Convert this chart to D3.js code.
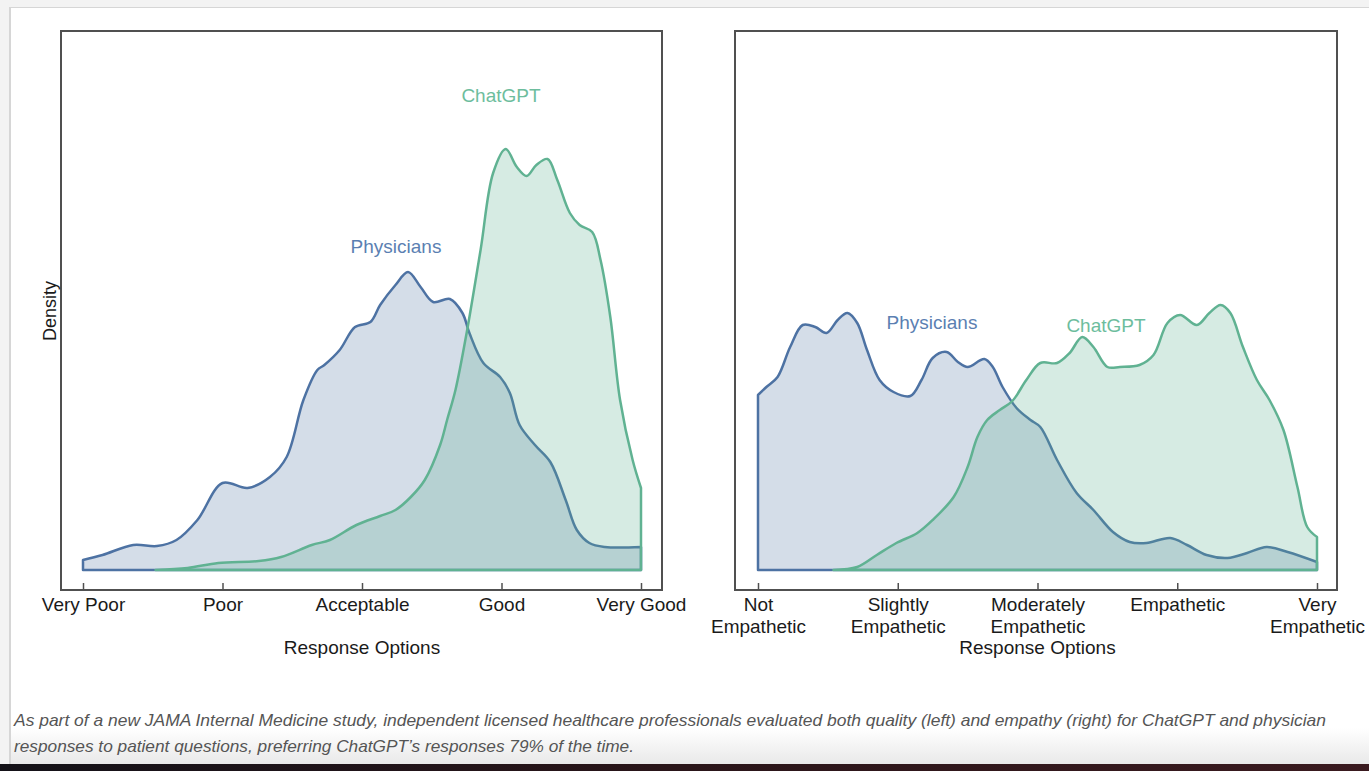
<!DOCTYPE html>
<html>
<head>
<meta charset="utf-8">
<script src="https://cdn.jsdelivr.net/npm/d3@7"></script>
<style>
  html, body { margin: 0; padding: 0; background: #f2f2f2; }
  svg { display: block; }
  text { font-family: "Liberation Sans", Arial, sans-serif; }
</style>
</head>
<body>
<svg id="chart" width="1369" height="771"></svg>
<script>
// ---------------- DATA ----------------
const qualityTickLabels = ["Very Poor", "Poor", "Acceptable", "Good", "Very Good"];
const empathyTickLabels = [["Not", "Empathetic"], ["Slightly", "Empathetic"], ["Moderately", "Empathetic"], ["Empathetic"], ["Very", "Empathetic"]];
const tickValues = [1, 2, 3, 4, 5];

// Quality (left) – Physicians density
const qualityPhysX = [1.00,1.14,1.36,1.53,1.67,1.82,2.00,2.18,2.34,2.46,2.58,2.68,2.73,2.84,2.95,3.06,3.13,3.24,3.33,3.42,3.51,3.63,3.72,3.77,3.87,3.99,4.06,4.13,4.24,4.35,4.46,4.54,4.63,4.74,5.00];
const qualityPhysY = [0.10,0.15,0.25,0.24,0.30,0.50,0.87,0.82,0.93,1.13,1.70,2.00,2.05,2.20,2.43,2.48,2.65,2.85,2.98,2.83,2.68,2.71,2.57,2.37,2.07,1.93,1.77,1.45,1.25,1.08,0.70,0.40,0.27,0.23,0.23];
// Quality (left) – ChatGPT density
const qualityGptX = [1.52,1.75,1.97,2.26,2.42,2.64,2.77,2.96,3.13,3.24,3.35,3.45,3.56,3.61,3.67,3.75,3.85,3.94,4.03,4.11,4.18,4.25,4.33,4.40,4.49,4.56,4.65,4.71,4.78,4.85,4.94,5.00];
const qualityGptY = [0.00,0.02,0.07,0.09,0.13,0.25,0.30,0.45,0.54,0.60,0.73,0.90,1.25,1.50,1.80,2.37,3.20,3.97,4.21,4.03,3.94,4.05,4.11,3.90,3.57,3.45,3.38,3.10,2.53,1.70,1.10,0.82];

// Empathy (right) – Physicians density
const empathyPhysX = [1.00,1.06,1.14,1.23,1.32,1.41,1.49,1.57,1.64,1.71,1.78,1.87,1.97,2.09,2.17,2.25,2.35,2.43,2.50,2.62,2.68,2.75,2.85,2.95,3.02,3.14,3.28,3.40,3.54,3.66,3.78,3.95,4.07,4.21,4.36,4.50,4.64,4.79,5.00];
const empathyPhysY = [1.75,1.83,1.93,2.23,2.45,2.43,2.37,2.50,2.57,2.47,2.20,1.90,1.78,1.74,1.90,2.12,2.18,2.08,2.03,2.11,2.03,1.83,1.62,1.50,1.43,1.10,0.77,0.60,0.38,0.28,0.27,0.32,0.25,0.15,0.12,0.17,0.23,0.18,0.08];
// Empathy (right) – ChatGPT density
const empathyGptX = [1.54,1.71,1.85,1.99,2.14,2.25,2.40,2.50,2.57,2.64,2.73,2.82,2.92,3.02,3.14,3.23,3.32,3.40,3.50,3.59,3.73,3.83,3.93,4.02,4.14,4.23,4.31,4.38,4.47,4.57,4.66,4.76,4.86,4.93,5.00];
const empathyGptY = [0.00,0.03,0.15,0.27,0.37,0.50,0.73,1.03,1.33,1.50,1.60,1.69,1.90,2.07,2.07,2.17,2.33,2.23,2.03,2.03,2.05,2.15,2.47,2.55,2.45,2.57,2.65,2.57,2.23,1.90,1.70,1.40,0.83,0.43,0.33];

const captionLines = [
  "As part of a new JAMA Internal Medicine study, independent licensed healthcare professionals evaluated both quality (left) and empathy (right) for ChatGPT and physician",
  "responses to patient questions, preferring ChatGPT\u2019s responses 79% of the time."
];

// ---------------- STYLE ----------------
const physStroke = "#4d72a3", physFill = "rgba(74,111,160,0.24)", physText = "#5b7fb2";
const gptStroke = "#60b292", gptFill = "rgba(93,175,143,0.25)", gptText = "#6dbd9d";

const svg = d3.select("#chart");

// page shell
const defs = svg.append("defs");
const capGrad = defs.append("linearGradient").attr("id", "capGrad").attr("x1", 0).attr("y1", 0).attr("x2", 0).attr("y2", 1);
capGrad.append("stop").attr("offset", "0%").attr("stop-color", "#ffffff");
capGrad.append("stop").attr("offset", "100%").attr("stop-color", "#e9e9e9");
const botGrad = defs.append("linearGradient").attr("id", "botGrad").attr("x1", 0).attr("y1", 0).attr("x2", 1).attr("y2", 0);
botGrad.append("stop").attr("offset", "0%").attr("stop-color", "#141218");
botGrad.append("stop").attr("offset", "50%").attr("stop-color", "#2a1519");
botGrad.append("stop").attr("offset", "100%").attr("stop-color", "#3a1a1f");

svg.append("rect").attr("x", 0).attr("y", 0).attr("width", 1369).attr("height", 771).attr("fill", "#f3f3f3");
svg.append("rect").attr("x", 9).attr("y", 7).attr("width", 1360).attr("height", 760).attr("fill", "#d6d6d6");
svg.append("rect").attr("x", 11).attr("y", 8).attr("width", 1358).attr("height", 758).attr("fill", "#ffffff");
svg.append("rect").attr("x", 11).attr("y", 728).attr("width", 1358).attr("height", 36).attr("fill", "url(#capGrad)");
svg.append("rect").attr("x", 0).attr("y", 764).attr("width", 1369).attr("height", 7).attr("fill", "url(#botGrad)");

// ---------------- PANELS ----------------
const y = d3.scaleLinear().domain([0, 5.39]).range([570, 31]);

function drawPanel(opts) {
  const x = d3.scaleLinear().domain([1, 5]).range(opts.xRange);
  const g = svg.append("g");

  const area = d3.area()
    .x(d => x(d[0]))
    .y0(y(0))
    .y1(d => y(d[1]))
    .curve(d3.curveCatmullRom.alpha(0.5));

  const phys = d3.zip(opts.physX, opts.physY);
  const gpt = d3.zip(opts.gptX, opts.gptY);

  g.append("path").datum(phys).attr("d", area)
    .attr("fill", physFill).attr("stroke", physStroke).attr("stroke-width", 2.5)
    .attr("stroke-linejoin", "round");
  g.append("path").datum(gpt).attr("d", area)
    .attr("fill", gptFill).attr("stroke", gptStroke).attr("stroke-width", 2.5)
    .attr("stroke-linejoin", "round");

  // frame
  g.append("rect")
    .attr("x", opts.frame[0]).attr("y", 31)
    .attr("width", opts.frame[1] - opts.frame[0]).attr("height", 590 - 31)
    .attr("fill", "none").attr("stroke", "#505050").attr("stroke-width", 2);

  // axis
  const axis = d3.axisBottom(x).tickValues(tickValues).tickSizeInner(-7).tickSizeOuter(0).tickPadding(7).tickFormat(() => "");
  const ax = g.append("g").attr("transform", "translate(0,590)").call(axis);
  ax.select(".domain").remove();
  ax.selectAll(".tick line").attr("stroke", "#505050").attr("stroke-width", 1.5);

  ax.selectAll(".tick").each(function(d, i) {
    const lines = opts.labels[i];
    const t = d3.select(this).append("text")
      .attr("fill", "#1a1a1a").attr("text-anchor", "middle")
      .attr("font-size", 19).attr("font-family", "Liberation Sans, Arial, sans-serif");
    lines.forEach((s, j) => {
      t.append("tspan").attr("x", 0).attr("y", 21 + j * 22).text(s);
    });
  });

  // axis title
  g.append("text").attr("x", (opts.xRange[0] + opts.xRange[1]) / 2).attr("y", 654)
    .attr("text-anchor", "middle").attr("font-size", 19).attr("fill", "#1a1a1a")
    .text("Response Options");

  // annotations
  g.append("text").attr("x", opts.physLabel[0]).attr("y", opts.physLabel[1])
    .attr("text-anchor", "middle").attr("font-size", 19).attr("fill", physText)
    .text("Physicians");
  g.append("text").attr("x", opts.gptLabel[0]).attr("y", opts.gptLabel[1])
    .attr("text-anchor", "middle").attr("font-size", 19).attr("fill", gptText)
    .text("ChatGPT");
}

drawPanel({
  xRange: [83, 641], frame: [61, 662],
  physX: qualityPhysX, physY: qualityPhysY, gptX: qualityGptX, gptY: qualityGptY,
  labels: qualityTickLabels.map(s => [s]),
  physLabel: [396, 253], gptLabel: [501, 102]
});
drawPanel({
  xRange: [758, 1317], frame: [735, 1337],
  physX: empathyPhysX, physY: empathyPhysY, gptX: empathyGptX, gptY: empathyGptY,
  labels: empathyTickLabels,
  physLabel: [932, 329], gptLabel: [1106, 332]
});

// y-axis title
svg.append("text").attr("transform", "translate(56,311) rotate(-90)")
  .attr("text-anchor", "middle").attr("font-size", 18).attr("fill", "#1a1a1a")
  .text("Density");

// caption
const cap = svg.append("g");
cap.append("text").attr("x", 14).attr("y", 726)
  .attr("font-family", "Open Sans, sans-serif").attr("font-style", "italic")
  .attr("font-size", 16.5).attr("fill", "#555555")
  .attr("textLength", 1312).attr("lengthAdjust", "spacingAndGlyphs")
  .text(captionLines[0]);
cap.append("text").attr("x", 14).attr("y", 752)
  .attr("font-family", "Open Sans, sans-serif").attr("font-style", "italic")
  .attr("font-size", 16.5).attr("fill", "#555555")
  .attr("textLength", 620).attr("lengthAdjust", "spacingAndGlyphs")
  .text(captionLines[1]);
</script>
</body>
</html>
